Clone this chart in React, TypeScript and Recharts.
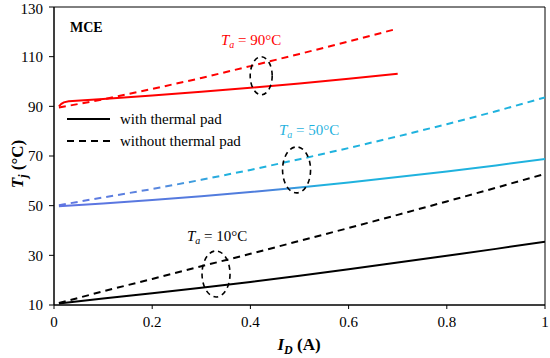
import { LineChart, Line, XAxis, YAxis, ReferenceArea, ReferenceDot } from 'recharts';

// I_D (A) sample points
const idFull = [0.01, 0.1, 0.2, 0.3, 0.4, 0.5, 0.6, 0.7, 0.8, 0.9, 1.0];
const idRedSolid = [0.01, 0.015, 0.02, 0.03, 0.1, 0.2, 0.3, 0.4, 0.5, 0.6, 0.7];
const idRedDash = [0.01, 0.1, 0.2, 0.3, 0.4, 0.5, 0.6, 0.7];

// Tj (°C)
const tj10With = [10.6, 12.6, 14.7, 16.9, 19.3, 21.8, 24.4, 27.1, 29.8, 32.6, 35.5];
const tj10Without = [10.8, 15.5, 20.5, 25.6, 30.6, 35.8, 41.0, 46.3, 51.7, 57.2, 62.8];
const tj50With = [49.8, 50.9, 52.3, 53.8, 55.5, 57.3, 59.3, 61.5, 63.8, 66.2, 68.8];
const tj50Without = [50.2, 53.3, 56.7, 60.4, 64.4, 68.7, 73.2, 77.9, 82.8, 88.0, 93.6];
const tj90With = [90.0, 91.0, 91.6, 92.0, 93.0, 94.4, 95.9, 97.5, 99.2, 101.1, 103.1];
const tj90Without = [89.5, 92.8, 97.0, 101.4, 106.2, 111.1, 116.1, 121.3];

const xTicks = [0, 0.2, 0.4, 0.6, 0.8, 1];
const yTicks = [10, 30, 50, 70, 90, 110, 130];

// annotation ellipse centers (data units)
const ellipses = [
  { x: 0.422, y: 102.3, rx: 11, ry: 19 },
  { x: 0.494, y: 64.4, rx: 14, ry: 23 },
  { x: 0.33, y: 22.5, rx: 14, ry: 23 },
];

const zip = (xs: number[], ys: number[]) => xs.map((x, i) => ({ x, y: ys[i] }));

const FONT = 'Liberation Serif, Times New Roman, serif';
const serif = { fontFamily: FONT };
const RED = '#FF0000';
const CYAN = '#1FB2DE';
const BLUE = '#5F74E2';

function fmtX(v: number) {
  return v === 0 || v === 1 ? String(v) : v.toFixed(1);
}

function EllipseShape(props: { cx?: number; cy?: number; rx: number; ry: number }) {
  const { cx = 0, cy = 0, rx, ry } = props;
  return (
    <ellipse cx={cx} cy={cy} rx={rx} ry={ry} fill="none" stroke="#000" strokeWidth={1.6} strokeDasharray="5 4" />
  );
}

function TaLabel({ x, y, value, color }: { x: number; y: number; value: string; color: string }) {
  return (
    <text x={x} y={y} fill={color} fontSize={15} style={serif}>
      <tspan fontStyle="italic">T</tspan>
      <tspan fontStyle="italic" fontSize={10} dy={3}>a</tspan>
      <tspan dy={-3}>{` = ${value}°C`}</tspan>
    </text>
  );
}

export default function App() {
  return (
    <div style={{ position: 'absolute', left: 0, top: 0, width: 550, height: 358, background: '#fff' }}>
      <LineChart width={550} height={358} margin={{ top: 7, right: 5, bottom: 23, left: 10 }} style={serif}>
        <defs>
          <linearGradient id="g50with" x1="0" y1="0" x2="1" y2="0">
            <stop offset="0" stopColor={BLUE} />
            <stop offset="0.42" stopColor="#4E7EDC" />
            <stop offset="0.55" stopColor={CYAN} />
            <stop offset="1" stopColor={CYAN} />
          </linearGradient>
          <linearGradient id="g50without" x1="0" y1="0" x2="1" y2="0">
            <stop offset="0" stopColor={BLUE} />
            <stop offset="0.2" stopColor="#5A86DE" />
            <stop offset="0.35" stopColor={CYAN} />
            <stop offset="1" stopColor={CYAN} />
          </linearGradient>
        </defs>
        <XAxis
          type="number"
          dataKey="x"
          domain={[0, 1]}
          ticks={xTicks}
          tickFormatter={fmtX}
          allowDataOverflow
          height={30}
          tickSize={4}
          tickMargin={7}
          stroke="#000"
          tick={{ fill: '#000', fontSize: 15, style: serif }}
        />
        <YAxis
          type="number"
          domain={[10, 130]}
          ticks={yTicks}
          allowDataOverflow
          width={44}
          tickSize={5}
          tickMargin={6}
          stroke="#000"
          tick={{ fill: '#000', fontSize: 15, style: serif }}
        />
        <ReferenceArea x1={0} x2={1} y1={10} y2={130} fill="none" stroke="#000" strokeWidth={1} ifOverflow="extendDomain" />

        <Line data={zip(idFull, tj10With)} dataKey="y" stroke="#000" strokeWidth={2} dot={false} isAnimationActive={false} />
        <Line data={zip(idFull, tj10Without)} dataKey="y" stroke="#000" strokeWidth={2} strokeDasharray="7 5" dot={false} isAnimationActive={false} />
        <Line data={zip(idFull, tj50With)} dataKey="y" stroke="url(#g50with)" strokeWidth={2} dot={false} isAnimationActive={false} />
        <Line data={zip(idFull, tj50Without)} dataKey="y" stroke="url(#g50without)" strokeWidth={2} strokeDasharray="7 5" dot={false} isAnimationActive={false} />
        <Line data={zip(idRedSolid, tj90With)} dataKey="y" stroke={RED} strokeWidth={2} dot={false} isAnimationActive={false} />
        <Line data={zip(idRedDash, tj90Without)} dataKey="y" stroke={RED} strokeWidth={2} strokeDasharray="7 5" dot={false} isAnimationActive={false} />

        {ellipses.map((e, i) => (
          <ReferenceDot key={i} x={e.x} y={e.y} r={0} shape={(p: any) => <EllipseShape {...p} rx={e.rx} ry={e.ry} />} />
        ))}
      </LineChart>

      <svg width={550} height={358} style={{ position: 'absolute', left: 0, top: 0, pointerEvents: 'none', ...serif }}>
        <text x={70} y={32} fontSize={14} fontWeight="bold" style={serif} fill="#000">MCE</text>

        <line x1={67} x2={110} y1={119} y2={119} stroke="#000" strokeWidth={2} />
        <text x={120} y={124} fontSize={15} style={serif} fill="#000">with thermal pad</text>
        <line x1={67} x2={110} y1={141} y2={141} stroke="#000" strokeWidth={2} strokeDasharray="7 5" />
        <text x={120} y={146} fontSize={15} style={serif} fill="#000">without thermal pad</text>

        <TaLabel x={221} y={45} value="90" color={RED} />
        <TaLabel x={279} y={135} value="50" color={CYAN} />
        <TaLabel x={187} y={241} value="10" color="#000" />

        <text transform="translate(23,164) rotate(-90)" textAnchor="middle" fontSize={17} fontWeight="bold" style={serif} fill="#000">
          <tspan fontStyle="italic">T</tspan>
          <tspan fontStyle="italic" fontSize={12} dy={4}>j</tspan>
          <tspan dy={-4}> (°C)</tspan>
        </text>

        <text x={299} y={350} textAnchor="middle" fontSize={17} fontWeight="bold" style={serif} fill="#000">
          <tspan fontStyle="italic">I</tspan>
          <tspan fontStyle="italic" fontSize={12} dy={4}>D</tspan>
          <tspan dy={-4}> (A)</tspan>
        </text>
      </svg>
    </div>
  );
}
